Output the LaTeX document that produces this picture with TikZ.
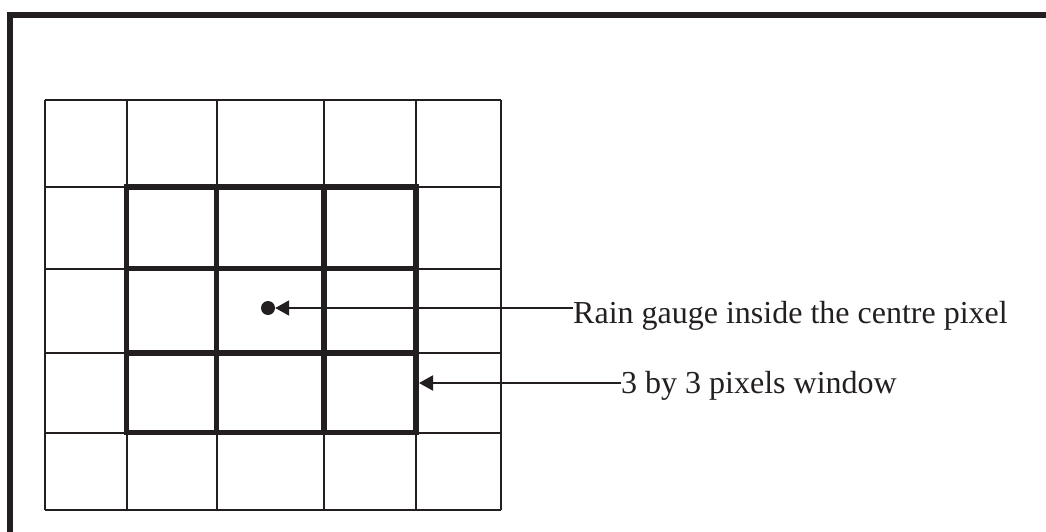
\documentclass[tikz,border=0pt]{standalone}
\usepackage{fontspec}
\setmainfont{Liberation Serif}
\usetikzlibrary{arrows.meta}
\definecolor{ink}{HTML}{231F20}
\tikzset{
  thinline/.style={line width=2pt, draw=ink},
  thickline/.style={line width=5.5pt, draw=ink},
  frameline/.style={line width=5.5pt, draw=ink, line join=miter},
  label/.style={inner sep=0pt, anchor=base west, text=ink,
    font=\fontsize{32}{38}\selectfont},
  pointer/.style={line width=2pt, draw=ink,
    -{Triangle[length=14pt,width=15pt]}, fill=ink},
  gaugedot/.style={circle, fill=ink, inner sep=0pt, minimum size=14pt}
}
\begin{document}
\begin{tikzpicture}[x=1pt,y=-1pt]
  \useasboundingbox (0,0) rectangle (1046,532);
  % frame edges
  \draw[frameline] (10,532) -- (10,15) -- (1046,15);
  % 5 x 5 pixel grid
  \foreach \gx in {45,126.5,216.5,324,416,501}
    \draw[thinline] (\gx,100.5) -- (\gx,509.5);
  \foreach \gy in {100.5,187,268.5,353,432.5,509.5}
    \draw[thinline] (45,\gy) -- (501,\gy);
  % 3 x 3 window
  \foreach \gx in {126.5,216.5,324,416}
    \draw[thickline] (\gx,184.25) -- (\gx,435.25);
  \foreach \gy in {187,268.5,353,432.5}
    \draw[thickline] (123.75,\gy) -- (418.75,\gy);
  % rain gauge and labels
  \node[gaugedot] (gauge) at (268,308) {};
  \coordinate (winedge) at (419,383);
  \node[label] (raintxt) at (573,323) {Rain gauge inside the centre pixel};
  \node[label] (wintxt) at (621,393) {3 by 3 pixels window};
  \draw[pointer] (gauge -| raintxt.west) -- (gauge.east);
  \draw[pointer] (winedge -| wintxt.west) -- (winedge);
\end{tikzpicture}
\end{document}
